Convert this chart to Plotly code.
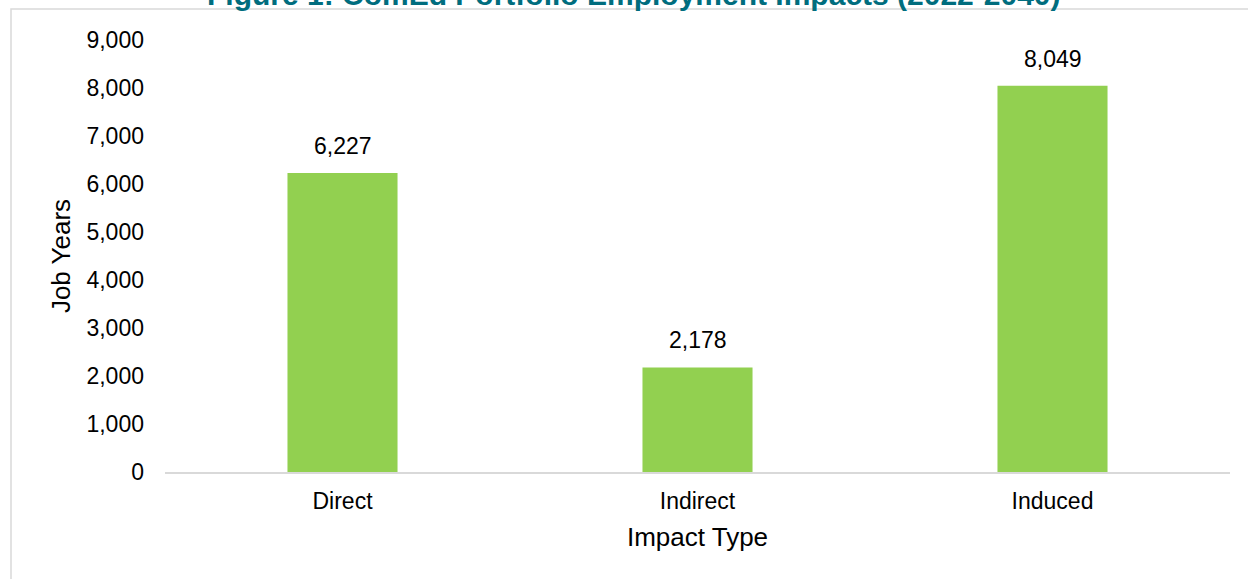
import plotly.graph_objects as go

categories = ["Direct", "Indirect", "Induced"]
job_years = [6227, 2178, 8049]
y_tick_values = [0, 1000, 2000, 3000, 4000, 5000, 6000, 7000, 8000, 9000]
y_tick_labels = ["0", "1,000", "2,000", "3,000", "4,000", "5,000", "6,000", "7,000", "8,000", "9,000"]
title_text = "Figure 1: ComEd Portfolio Employment Impacts (2022-2040)"

FONT = "Liberation Sans, Arial, sans-serif"

fig = go.Figure()
fig.add_trace(go.Bar(
    x=categories, y=job_years,
    marker=dict(color="#92D050", line=dict(width=0)),
    showlegend=False, hoverinfo="x+y",
))

for c, v in zip(categories, job_years):
    fig.add_annotation(x=c, y=v, text=f"{v:,}", showarrow=False,
                       yanchor="bottom", yshift=12,
                       font=dict(family=FONT, size=23, color="#000000"))

# Title (partly cropped at the top edge, as in the reference)
fig.add_annotation(xref="paper", yref="paper", x=(634 - 165) / 1065, y=1 + 46 / 432,
                   xanchor="center", yanchor="middle", showarrow=False,
                   text=f"<b>{title_text}</b>",
                   font=dict(family=FONT, size=30, color="#006D7E"))

fig.update_layout(
    width=1248, height=579,
    margin=dict(l=165, r=18, t=40, b=107),
    paper_bgcolor="white", plot_bgcolor="white",
    bargap=0.69,
    font=dict(family=FONT, color="#000000"),
    xaxis=dict(
        showline=True, linecolor="#D9D9D9", linewidth=1.5,
        showgrid=False, ticks="", zeroline=False,
        tickfont=dict(family=FONT, size=23, color="#000000"),
        ticklabelstandoff=8,
        title=dict(text="Impact Type", font=dict(family=FONT, size=26, color="#000000"), standoff=14),
    ),
    yaxis=dict(
        range=[0, 9000], tickvals=y_tick_values, ticktext=y_tick_labels,
        showline=False, showgrid=False, zeroline=False, ticks="",
        tickfont=dict(family=FONT, size=23, color="#000000"),
        ticklabelstandoff=20,
        title=dict(text="Job Years", font=dict(family=FONT, size=26, color="#000000"), standoff=8),
    ),
)

fig.add_shape(type="rect", xref="paper", yref="paper",
              x0=(11 - 165) / 1065, x1=(1260 - 165) / 1065,
              y0=-(640 - 472) / 432, y1=1 + (40 - 9) / 432,
              line=dict(color="#D9D9D9", width=1.5), fillcolor="rgba(0,0,0,0)", layer="below")

fig.write_html("out.html")
